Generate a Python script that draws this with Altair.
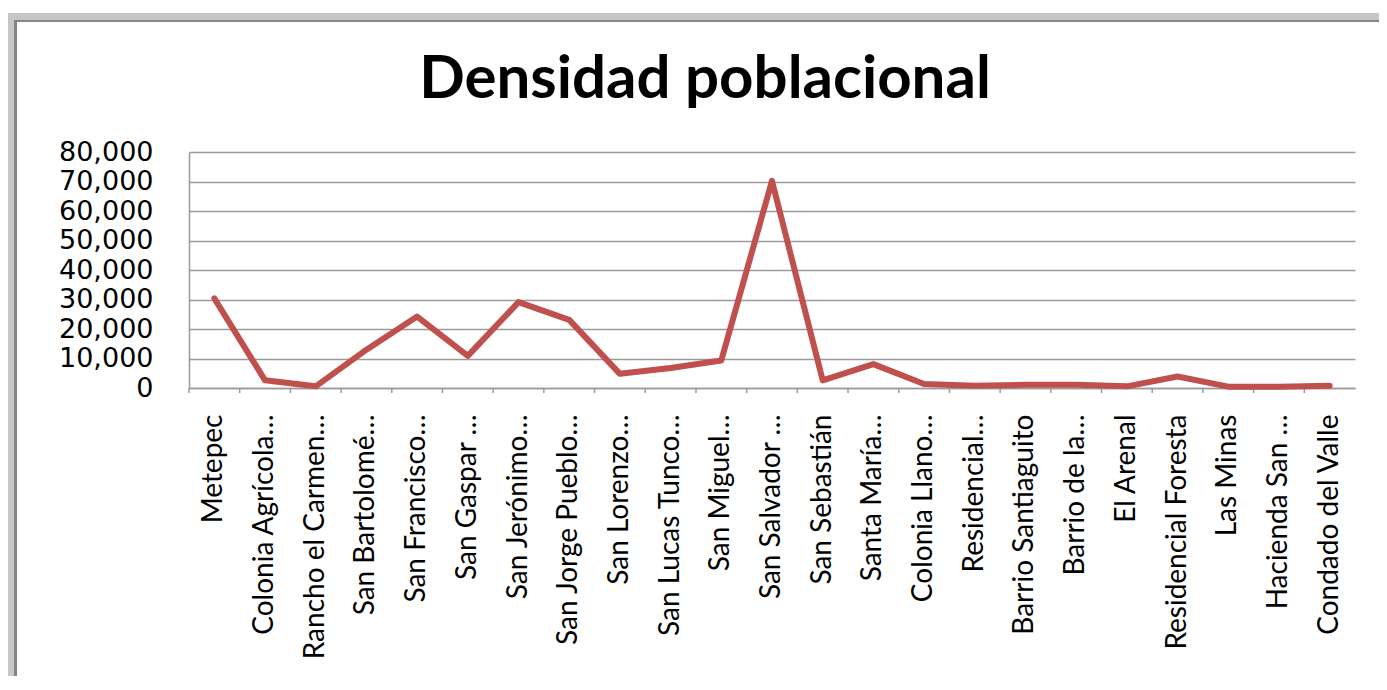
import altair as alt
import pandas as pd

categories = ["Metepec", "Colonia Agrícola…", "Rancho el Carmen…", "San Bartolomé…",
              "San Francisco…", "San Gaspar …", "San Jerónimo…", "San Jorge Pueblo…",
              "San Lorenzo…", "San Lucas Tunco…", "San Miguel…", "San Salvador …",
              "San Sebastián", "Santa María…", "Colonia Llano…", "Residencial…",
              "Barrio Santiaguito", "Barrio de la…", "El Arenal", "Residencial Foresta",
              "Las Minas", "Hacienda San …", "Condado del Valle"]
values = [30400, 2600, 560, 13000, 24200, 10900, 29100, 23100, 4800, 6800, 9350, 70200,
          2600, 8100, 1350, 800, 1100, 1100, 560, 3900, 450, 450, 800]
y_ticks = [0, 10000, 20000, 30000, 40000, 50000, 60000, 70000, 80000]

df = pd.DataFrame({"cat": categories, "val": values})

W, H = 1166, 236

xscale = alt.Scale(type="band", paddingInner=0, paddingOuter=0, domain=categories)

line = alt.Chart(df).mark_line(color="#C0504D", strokeWidth=6, strokeJoin="round",
                               strokeCap="round").encode(
    x=alt.X("cat:N", sort=categories, scale=xscale, bandPosition=0.5,
            axis=alt.Axis(title=None, labelAngle=-90, labelAlign="right",
                          labelBaseline="middle", labelFont="Lato", labelFontSize=28,
                          labelColor="#000000", labelPadding=26, labelLimit=400,
                          ticks=False, domain=True, domainColor="#9a9a9a",
                          domainWidth=1.5, grid=False)),
    y=alt.Y("val:Q", scale=alt.Scale(domain=[0, 80000], nice=False),
            axis=alt.Axis(title=None, values=y_ticks, format=",d", labelFont="DejaVu Sans",
                          labelFontSize=27, labelColor="#000000", labelPadding=36,
                          ticks=False, domain=True, domainColor="#9a9a9a", domainWidth=1.5,
                          grid=True, gridColor="#9a9a9a", gridWidth=1.5)),
)

ticks = alt.Chart(df).mark_rule(color="#9a9a9a", strokeWidth=1.5).encode(
    x=alt.X("cat:N", sort=categories, scale=xscale, bandPosition=0),
    y=alt.value(H),
    y2=alt.value(H + 5),
)

frame_data = alt.Data(values=[{"k": 1}])
band_top = alt.Chart(frame_data).mark_rect(color="#c6c6c6").encode(
    x=alt.value(-182), x2=alt.value(1400), y=alt.value(-139), y2=alt.value(-132))
band_left = alt.Chart(frame_data).mark_rect(color="#c6c6c6").encode(
    x=alt.value(-182), x2=alt.value(-175), y=alt.value(-139), y2=alt.value(700))
dark_top = alt.Chart(frame_data).mark_rect(color="#858585").encode(
    x=alt.value(-175), x2=alt.value(1400), y=alt.value(-132), y2=alt.value(-130))
dark_left = alt.Chart(frame_data).mark_rect(color="#858585").encode(
    x=alt.value(-175), x2=alt.value(-172), y=alt.value(-132), y2=alt.value(700))

chart = alt.layer(band_top, band_left, dark_top, dark_left, ticks, line).properties(
    width=W, height=H,
    autosize=alt.AutoSizeParams(type="none"),
    padding={"left": 181, "top": 144, "right": 24, "bottom": 288},
    background="#ffffff",
    title=alt.Title("Densidad poblacional", font="Lato", fontSize=60, fontWeight="bold",
                    color="#000000", anchor="middle", frame="group", dx=-67, dy=145,
                    offset=0, baseline="alphabetic"),
).configure_view(stroke=None)

chart.save("out.html", embed_options={"renderer": "svg", "actions": False})
